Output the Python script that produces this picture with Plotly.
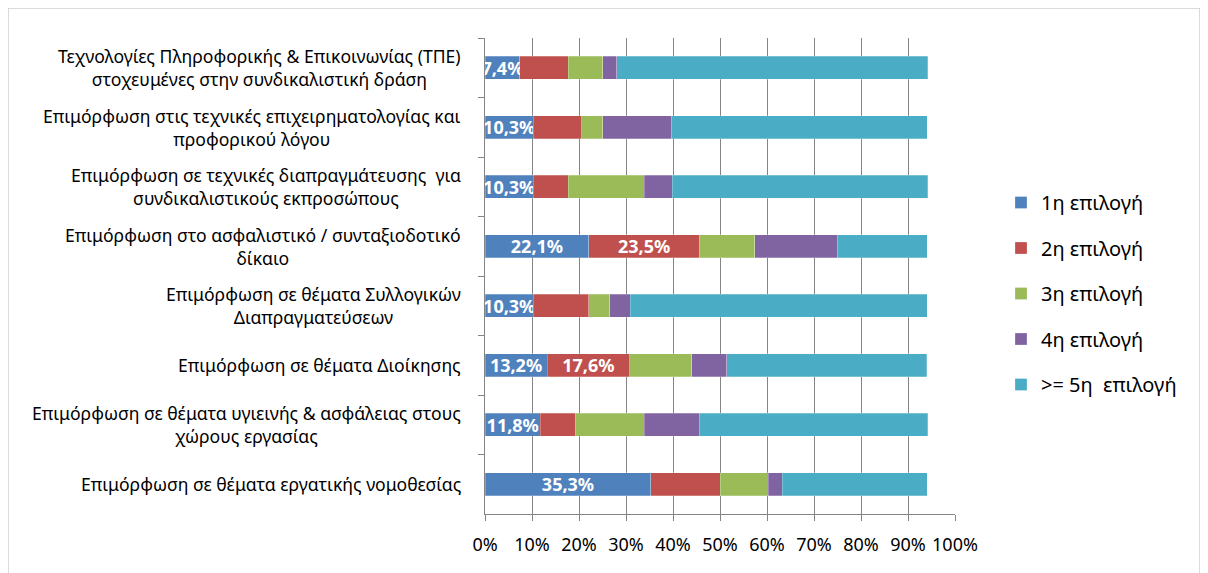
import plotly.graph_objects as go

categories = [
    "Τεχνολογίες Πληροφορικής & Επικοινωνίας (ΤΠΕ)<br>στοχευμένες στην συνδικαλιστική δράση",
    "Επιμόρφωση στις τεχνικές επιχειρηματολογίας και<br>προφορικού λόγου",
    "Επιμόρφωση σε τεχνικές διαπραγμάτευσης  για<br>συνδικαλιστικούς εκπροσώπους",
    "Επιμόρφωση στο ασφαλιστικό / συνταξιοδοτικό<br>δίκαιο",
    "Επιμόρφωση σε θέματα Συλλογικών<br>Διαπραγματεύσεων",
    "Επιμόρφωση σε θέματα Διοίκησης",
    "Επιμόρφωση σε θέματα υγιεινής & ασφάλειας στους<br>χώρους εργασίας",
    "Επιμόρφωση σε θέματα εργατικής νομοθεσίας",
]

series_names = ["1η επιλογή", "2η επιλογή", "3η επιλογή", "4η επιλογή", ">= 5η  επιλογή"]

choice1 = [7.4, 10.3, 10.3, 22.1, 10.3, 13.2, 11.8, 35.3]
choice2 = [10.3, 10.3, 7.4, 23.5, 11.8, 17.6, 7.4, 14.7]
choice3 = [7.4, 4.4, 16.2, 11.8, 4.4, 13.2, 14.7, 10.3]
choice4 = [2.9, 14.7, 5.9, 17.6, 4.4, 7.4, 11.8, 2.9]
choice5 = [66.2, 54.4, 54.4, 19.1, 63.2, 42.6, 48.5, 30.9]

# which segments carry a visible data label
labels1 = [True] * 8
labels2 = [False, False, False, True, False, True, False, False]

x_ticks = [0, 10, 20, 30, 40, 50, 60, 70, 80, 90, 100]
x_tick_labels = [f"{t}%" for t in x_ticks]

colors = ["#4F81BD", "#C0504D", "#9BBB59", "#8064A2", "#4BACC6"]
all_series = [choice1, choice2, choice3, choice4, choice5]
all_labels = [labels1, labels2, [False] * 8, [False] * 8, [False] * 8]

FONT = "Noto Sans"

# the page body adds an 8px margin; compensate so page pixels match
OFF = 8
W_FIG, H_FIG = 1208, 573
AX_L, AX_R, AX_T, AX_B = 485, 955, 38, 514
L, R, T = AX_L - OFF, W_FIG - (AX_R - OFF), AX_T - OFF
B = H_FIG - (AX_B - OFF)
W, H = AX_R - AX_L, AX_B - AX_T


def px(xp):
    return (xp - AX_L) / W


def py(yp):
    return (AX_B - yp) / H


fig = go.Figure()
for i, (name, vals, labs) in enumerate(zip(series_names, all_series, all_labels)):
    texts = [(f"{v:.1f}".replace(".", ",") + "%") if show else "" for v, show in zip(vals, labs)]
    fig.add_trace(go.Bar(
        y=categories, x=vals, name=name, orientation="h",
        marker=dict(color=colors[i], line=dict(color="rgba(255,255,255,0.5)", width=0.5)),
        text=texts, textposition="inside", insidetextanchor="middle",
        constraintext="none",
        textfont=dict(family=FONT, size=18, color="white", weight="bold"),
        legendgroup=f"g{i}", hoverinfo="x+name",
    ))

for c in categories:
    fig.add_annotation(
        x=0, xref="paper", y=c, yref="y", text=c, showarrow=False,
        xanchor="right", align="center", xshift=-22,
        font=dict(family=FONT, size=17.6, color="black"),
    )

fig.add_shape(type="rect", xref="paper", yref="paper",
              x0=px(8), x1=px(1200), y0=py(600), y1=py(8),
              line=dict(color="#d0d0d0", width=1.5), layer="below")

fig.update_layout(
    width=W_FIG, height=H_FIG,
    margin=dict(l=L, r=R, t=T, b=B, autoexpand=False),
    barmode="stack", bargap=0.61,
    paper_bgcolor="white", plot_bgcolor="white",
    font=dict(family=FONT, size=17, color="black"),
    showlegend=True,
    legend=dict(x=px(1001), xanchor="left", y=py(183), yanchor="top",
                traceorder="grouped", tracegroupgap=16.5,
                font=dict(family=FONT, size=20, color="black"),
                bgcolor="rgba(0,0,0,0)"),
    xaxis=dict(range=[0, 100], tickvals=x_ticks, ticktext=x_tick_labels,
               showgrid=True, gridcolor="#858585", gridwidth=1,
               showline=True, linecolor="#858585", linewidth=1,
               ticks="outside", ticklen=6, tickcolor="#858585",
               ticklabelstandoff=8,
               tickfont=dict(family=FONT, size=18, color="black"),
               zeroline=False, fixedrange=True),
    yaxis=dict(type="category", autorange="reversed", showticklabels=False,
               showline=True, linecolor="#858585", linewidth=1,
               ticks="outside", ticklen=6, tickcolor="#858585",
               tickson="boundaries", showgrid=False, fixedrange=True),
)

fig.write_html("out.html")
